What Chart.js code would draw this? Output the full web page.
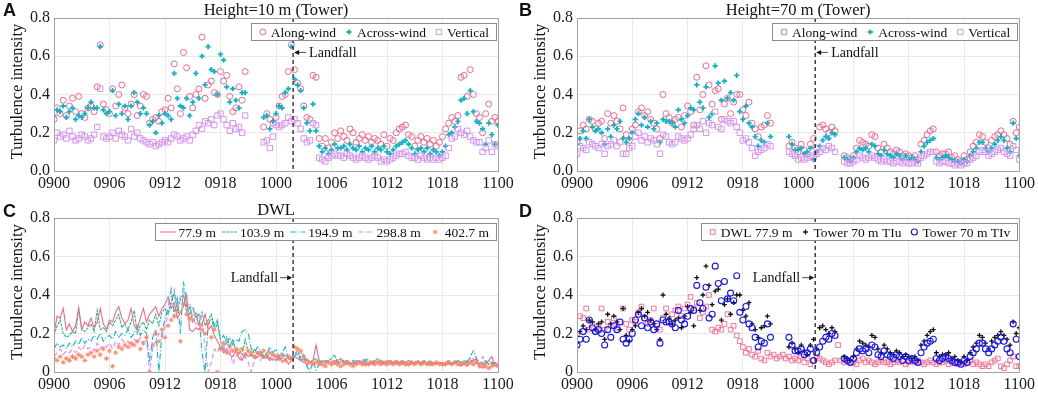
<!DOCTYPE html>
<html>
<head>
<meta charset="utf-8">
<script src="https://cdn.jsdelivr.net/npm/chart.js@4.4.1/dist/chart.umd.min.js"></script>
<style>
  html, body { margin: 0; padding: 0; background: #fff; }
  #wrap { position: relative; width: 1038px; height: 393px; overflow: hidden; }
  canvas { position: absolute; }
</style>
</head>
<body>
<div id="wrap">
  <canvas id="pa" width="519" height="196" style="left:0;top:0"></canvas>
  <canvas id="pb" width="519" height="196" style="left:519px;top:0"></canvas>
  <canvas id="pc" width="519" height="197" style="left:0;top:196px"></canvas>
  <canvas id="pd" width="519" height="197" style="left:519px;top:196px"></canvas>
</div>
<script>
// x axis: hours after 09 00 (DDHH labels), samples every 20 min
const xTickHours = [0, 6, 12, 18, 24, 30, 36, 42, 48];
const xTickLabels = ['0900', '0906', '0912', '0918', '1000', '1006', '1012', '1018', '1100'];
const yTickValues = [0, 0.2, 0.4, 0.6, 0.8];
const yLabelsTower = ['0.0', '0.2', '0.4', '0.6', '0.8'];
const yLabelsDwl = ['0', '0.2', '0.4', '0.6', '0.8'];
const landfallHour = 25.85;

const hours = [];
for (let i = 0; i <= 144; i++) hours.push(i / 3);

// Tower 10 m
const tower10Along = [
  0.27,0.33,0.30, 0.37,0.29,0.34, 0.38,0.31,0.39, 0.30,0.28,0.33,
  0.34,0.31,0.44, 0.66,0.35,0.32, 0.30,0.43,0.34, 0.40,0.45,0.33,
  0.30,0.35,0.40, 0.29,0.34,0.40, 0.39,0.25,0.27, 0.28,0.26,0.31,
  0.32,0.38,0.33, 0.56,0.43,0.30, 0.62,0.54,0.39, 0.33,0.40,0.43,
  0.70,0.38,0.45, 0.47,0.41,0.40, 0.52,0.47,0.50, 0.39,0.31,0.33,
  0.44,0.37,0.52, null,null,null, null,null,0.23, 0.30,0.27,0.25,
  0.28,0.34,0.39, 0.40,0.52,0.66, 0.53,0.46,0.43, 0.34,0.28,0.27,
  0.50,0.49,0.17, 0.13,0.17,0.12, 0.15,0.20,0.17, 0.21,0.18,0.16,
  0.22,0.20,0.15, 0.17,0.19,0.16, 0.18,0.15,0.17, 0.16,0.14,0.19,
  0.13,0.17,0.16, 0.20,0.22,0.23, 0.24,0.19,0.18, 0.13,0.16,0.18,
  0.15,0.17,0.14, 0.16,0.13,0.15, 0.18,0.22,0.25, 0.28,0.26,0.29,
  0.49,0.50,0.39, 0.53,0.40,0.30, 0.28,0.20,0.30, 0.35,0.26,0.28,
  0.26
];
const tower10Across = [
  0.29,0.32,0.31, 0.34,0.28,0.31, 0.33,0.27,0.29, 0.28,0.30,0.33,
  0.36,0.33,0.33, 0.65,0.32,0.30, 0.31,0.42,0.29, 0.35,0.30,0.34,
  0.27,0.34,0.41, 0.36,0.30,0.33, 0.30,0.24,0.26, 0.20,0.29,0.25,
  0.30,0.29,0.27, 0.51,0.38,0.34, 0.33,0.38,0.29, 0.36,0.51,0.38,
  0.60,0.45,0.65, 0.53,0.52,0.40, 0.61,0.58,0.44, 0.36,0.43,0.37,
  0.33,0.41,0.41, null,null,null, null,null,0.28, 0.29,0.22,0.26,
  0.30,0.34,0.33, 0.41,0.43,0.65, 0.48,0.45,0.42, 0.33,0.25,0.21,
  0.35,0.21,0.13, 0.10,0.12,0.09, 0.11,0.14,0.12, 0.12,0.13,0.11,
  0.14,0.12,0.11, 0.13,0.10,0.12, 0.11,0.13,0.10, 0.12,0.11,0.13,
  0.10,0.09,0.11, 0.13,0.14,0.15, 0.16,0.14,0.12, 0.09,0.11,0.12,
  0.10,0.12,0.09, 0.11,0.10,0.08, 0.10,0.13,0.19, 0.20,0.23,0.26,
  0.37,0.38,0.30, 0.42,0.31,0.26, 0.25,0.22,0.14, 0.25,0.19,0.14,
  0.24
];
const tower10Vertical = [
  0.16,0.20,0.18, 0.19,0.17,0.21, 0.18,0.16,0.17, 0.19,0.18,0.16,
  0.17,0.19,0.23, 0.43,0.18,0.17, 0.18,0.20,0.17, 0.21,0.19,0.18,
  0.16,0.22,0.18, 0.20,0.17,0.16, 0.15,0.14,0.15, 0.13,0.14,0.15,
  0.16,0.15,0.17, 0.19,0.18,0.16, 0.17,0.18,0.16, 0.19,0.21,0.24,
  0.22,0.26,0.25, 0.27,0.24,0.29, 0.30,0.27,0.24, 0.21,0.25,0.22,
  0.23,0.20,0.29, null,null,null, null,null,0.15, 0.16,0.12,0.18,
  0.24,0.23,0.24, 0.25,0.28,0.26, 0.27,0.25,0.22, 0.17,0.15,0.16,
  0.25,0.24,0.07, 0.06,0.05,0.07, 0.08,0.09,0.08, 0.08,0.07,0.09,
  0.08,0.07,0.06, 0.07,0.08,0.07, 0.06,0.07,0.08, 0.07,0.05,0.06,
  0.05,0.06,0.07, 0.08,0.09,0.09, 0.10,0.08,0.07, 0.07,0.06,0.08,
  0.07,0.06,0.07, 0.06,0.07,0.06, 0.07,0.08,0.12, 0.17,0.18,0.22,
  0.20,0.19,0.21, 0.18,0.16,0.15, 0.15,0.10,0.12, 0.16,0.10,0.14,
  0.13
];

// Tower 70 m
const tower70Along = [
  0.15,0.21,0.24, 0.22,0.27,0.26, 0.22,0.25,0.26, 0.17,0.30,0.25,
  0.29,0.26,0.22, 0.33,0.19,0.16, 0.22,0.24,0.31, 0.33,0.29,0.31,
  0.27,0.25,0.22, 0.17,0.40,0.30, 0.28,0.25,0.27, 0.28,0.23,0.29,
  0.34,0.31,0.24, 0.49,0.32,0.40, 0.55,0.45,0.35, 0.42,0.43,0.27,
  0.35,0.38,0.30, 0.36,0.40,0.40, 0.32,0.29,0.36, 0.25,0.22,0.18,
  0.23,0.24,0.29, 0.25,null,null, null,null,null, 0.13,0.15,0.12,
  0.10,0.14,0.11, 0.09,0.14,0.17, 0.12,0.23,0.24, 0.22,0.20,0.23,
  0.21,null,null, 0.08,0.07,0.06, 0.08,0.12,0.16, 0.15,0.14,0.13,
  0.19,0.18,0.12, 0.10,0.14,0.12, 0.10,0.09,0.11, 0.10,0.08,0.09,
  0.08,0.07,0.08, 0.06,0.14,0.16, 0.19,0.21,0.22, 0.10,0.08,0.09,
  0.09,0.10,0.07, 0.08,0.06,0.05, 0.08,0.06,0.10, 0.13,0.15,0.19,
  0.18,0.15,0.12, 0.16,0.18,0.19, 0.21,0.19,0.17, 0.14,0.26,0.20,
  0.23
];
const tower70Across = [
  0.14,0.17,0.21, 0.17,0.27,0.23, 0.21,0.22,0.20, 0.14,0.22,0.18,
  0.24,0.22,0.26, 0.17,0.15,0.17, 0.20,0.27,0.30, 0.24,0.28,0.23,
  0.26,0.22,0.25, 0.15,0.27,0.26, 0.26,0.25,0.23, 0.32,0.27,0.25,
  0.29,0.33,0.32, 0.45,0.36,0.33, 0.44,0.28,0.30, 0.55,0.46,0.37,
  0.47,0.38,0.41, 0.37,0.50,0.31, 0.27,0.34,0.25, 0.23,0.18,0.13,
  0.16,0.15,0.25, 0.18,null,null, null,null,null, 0.18,0.14,0.11,
  0.11,0.12,0.09, 0.10,0.12,0.06, 0.10,0.13,0.16, 0.18,0.17,0.20,
  0.19,null,null, 0.07,0.06,0.05, 0.07,0.10,0.12, 0.11,0.12,0.10,
  0.14,0.13,0.09, 0.08,0.11,0.09, 0.08,0.07,0.09, 0.08,0.06,0.08,
  0.06,0.07,0.06, 0.05,0.10,0.13, 0.15,0.16,0.17, 0.07,0.06,0.07,
  0.08,0.07,0.06, 0.05,0.05,0.04, 0.06,0.05,0.08, 0.10,0.12,0.15,
  0.15,0.12,0.10, 0.12,0.14,0.16, 0.18,0.16,0.12, 0.10,0.25,0.17,
  0.08
];
const tower70Vertical = [
  0.09,0.13,0.12, 0.11,0.15,0.14, 0.13,0.12,0.14, 0.09,0.13,0.14,
  0.16,0.13,0.15, 0.09,0.09,0.12, 0.13,0.18,0.20, 0.16,0.18,0.15,
  0.17,0.16,0.14, 0.09,0.19,0.18, 0.15,0.14,0.15, 0.18,0.17,0.16,
  0.17,0.19,0.22, 0.24,0.22,0.26, 0.20,0.25,0.24, 0.31,0.23,0.22,
  0.27,0.26,0.25, 0.26,0.23,0.20, 0.16,0.17,0.15, 0.12,0.08,0.10,
  0.11,0.12,0.14, 0.13,null,null, null,null,null, 0.10,0.09,0.08,
  0.06,0.07,0.06, 0.07,0.08,0.07, 0.09,0.10,0.12, 0.11,0.13,0.12,
  0.10,null,null, 0.05,0.04,0.04, 0.05,0.06,0.08, 0.07,0.06,0.07,
  0.08,0.07,0.06, 0.05,0.06,0.05, 0.05,0.04,0.05, 0.05,0.04,0.05,
  0.04,0.04,0.05, 0.04,0.07,0.08, 0.09,0.10,0.10, 0.05,0.04,0.05,
  0.05,0.04,0.04, 0.03,0.04,0.03, 0.04,0.04,0.06, 0.07,0.08,0.10,
  0.11,0.10,0.08, 0.09,0.10,0.11, 0.12,0.10,0.09, 0.08,0.13,0.11,
  0.06
];

// DWL
const dwl779 = [
  0.20,0.29,0.28, 0.33,0.22,0.25, 0.21,0.24,0.33, 0.22,0.26,0.24,
  0.28,0.23,0.26, 0.33,0.25,0.22, 0.27,0.26,0.31, 0.34,0.28,0.25,
  0.27,0.33,0.24, 0.22,0.28,0.33, 0.26,0.30,0.32, 0.34,0.29,0.33,
  0.35,0.39,0.33, 0.36,0.28,0.31, 0.34,0.40,0.22, 0.21,0.23,0.22,
  0.25,0.30,0.22, 0.24,0.19,0.16, 0.13,0.10,0.12, 0.09,0.08,0.11,
  0.07,0.06,0.10, 0.08,0.09,0.07, 0.08,0.09,0.07, 0.08,0.06,0.07,
  0.06,0.08,0.05, 0.07,0.04,0.06, 0.08,0.07,0.06, 0.05,0.04,0.05,
  0.06,0.14,0.06, 0.05,0.06,0.05, 0.05,0.04,0.06, 0.07,0.05,0.06,
  0.05,0.04,0.05, 0.06,0.05,0.05, 0.04,0.05,0.06, 0.05,0.06,0.04,
  0.05,0.06,0.05, 0.06,0.05,0.04, 0.05,0.06,0.05, 0.04,0.05,0.05,
  0.06,0.04,0.05, 0.05,0.04,0.05, 0.04,0.05,0.06, 0.04,0.05,0.04,
  0.03,0.04,0.03, 0.05,0.06,0.07, 0.03,0.02,0.04, 0.06,0.08,0.03,
  0.03
];
const dwl1039 = [
  0.19,0.24,0.27, 0.20,0.18,0.19, 0.21,0.20,0.33, 0.22,0.21,0.23,
  0.25,0.21,0.32, 0.22,0.23,0.21, 0.26,0.24,0.27, 0.30,0.23,0.25,
  0.22,0.26,0.32, 0.20,0.24,0.26, 0.22,0.27,0.25, 0.30,0.24,0.31,
  0.33,0.30,0.36, 0.41,0.32,0.38, 0.40,0.31,0.34, 0.26,0.29,0.25,
  0.31,0.24,0.27, 0.30,0.24,0.27, 0.16,0.12,0.18, 0.13,0.17,0.11,
  0.12,0.09,0.17, 0.10,0.08,0.12, 0.09,0.11,0.08, 0.10,0.07,0.09,
  0.08,0.06,0.07, 0.09,0.07,0.06, 0.08,0.12,0.07, 0.06,0.07,0.05,
  0.06,0.07,0.05, 0.06,0.05,0.06, 0.07,0.09,0.05, 0.05,0.06,0.05,
  0.04,0.05,0.06, 0.05,0.06,0.07, 0.06,0.05,0.06, 0.07,0.06,0.05,
  0.05,0.06,0.05, 0.04,0.05,0.06, 0.05,0.04,0.05, 0.05,0.06,0.04,
  0.05,0.05,0.06, 0.04,0.05,0.04, 0.05,0.04,0.05, 0.04,0.06,0.05,
  0.05,0.04,0.06, 0.07,0.05,0.05, 0.04,0.05,0.06, 0.04,0.05,0.05,
  0.04
];
const dwl1949 = [
  0.12,0.15,0.13, 0.14,0.12,0.15, 0.13,0.16,0.14, 0.18,0.15,0.17,
  0.16,0.19,0.17, 0.20,0.16,0.18, 0.19,0.17,0.21, 0.18,0.20,0.19,
  0.22,0.18,0.20, 0.24,0.19,0.22, 0.20,0.05,0.18, 0.22,0.00,0.20,
  0.28,0.33,0.43, 0.30,0.38,0.20, 0.47,0.35,0.30, 0.34,0.28,0.30,
  0.10,0.00,0.25, 0.28,0.22,0.25, 0.17,0.19,0.15, 0.18,0.14,0.17,
  0.16,0.21,0.22, 0.20,0.12,0.10, 0.13,0.11,0.08, 0.09,0.13,0.10,
  0.12,0.08,0.10, 0.13,0.07,0.09, 0.08,0.10,0.06, 0.09,0.03,0.00,
  0.06,0.01,0.04, 0.06,0.05,0.06, 0.05,0.06,0.05, 0.06,0.05,0.04,
  0.05,0.06,0.05, 0.04,0.05,0.06, 0.05,0.04,0.05, 0.06,0.05,0.04,
  0.05,0.04,0.05, 0.04,0.05,0.05, 0.05,0.04,0.04, 0.05,0.04,0.05,
  0.04,0.05,0.04, 0.05,0.04,0.05, 0.04,0.05,0.04, 0.05,0.04,0.06,
  0.05,0.06,0.05, 0.08,0.11,0.07, 0.05,0.04,0.05, 0.06,0.04,0.05,
  0.04
];
const dwl2988 = [
  0.08,0.10,0.12, 0.09,0.11,0.10, 0.12,0.10,0.13, 0.11,0.14,0.12,
  0.13,0.11,0.15, 0.12,0.14,0.13, 0.15,0.12,0.16, 0.14,0.17,0.15,
  0.16,0.13,0.17, 0.15,0.18,0.14, 0.17,0.00,0.12, 0.16,0.20,0.18,
  0.24,0.30,0.36, 0.43,0.35,0.39, 0.40,0.34,0.36, 0.28,0.25,0.30,
  0.27,0.12,0.00, 0.05,0.12,0.10, 0.14,0.10,0.15, 0.12,0.04,0.08,
  0.10,0.06,0.08, 0.05,0.00,0.06, 0.08,0.06,0.09, 0.07,0.08,0.06,
  0.09,0.07,0.08, 0.06,0.08,0.07, 0.10,0.09,0.11, 0.07,0.03,0.05,
  0.04,0.06,0.05, 0.05,0.04,0.05, 0.06,0.05,0.04, 0.05,0.06,0.05,
  0.04,0.05,0.04, 0.05,0.04,0.06, 0.05,0.04,0.05, 0.04,0.05,0.05,
  0.06,0.05,0.04, 0.05,0.04,0.05, 0.04,0.05,0.04, 0.05,0.06,0.04,
  0.05,0.04,0.05, 0.04,0.05,0.04, 0.05,0.04,0.05, 0.04,0.05,0.04,
  0.05,0.04,0.05, 0.06,0.07,0.05, 0.04,0.08,0.05, 0.04,0.03,0.05,
  0.04
];
const dwl4027 = [
  0.07,0.06,0.08, 0.05,0.07,0.06, 0.08,0.07,0.09, 0.08,0.06,0.09,
  0.10,0.08,0.11, 0.09,0.12,0.07, 0.11,0.03,0.10, 0.13,0.12,0.14,
  0.13,0.15,0.14, 0.16,0.12,0.15, 0.18,0.00,0.14, 0.20,0.16,0.22,
  0.18,0.24,0.27, 0.29,0.32,0.16, 0.35,0.30,0.28, 0.27,0.30,0.25,
  0.22,0.20,0.25, 0.18,0.22,0.00, 0.12,0.15,0.10, 0.13,0.11,0.12,
  0.10,0.12,0.09, 0.11,0.10,0.08, 0.10,0.09,0.11, 0.08,0.10,0.09,
  0.08,0.07,0.09, 0.06,0.08,0.07, 0.13,0.12,0.11, 0.08,0.06,0.05,
  0.04,0.05,0.04, 0.04,0.03,0.05, 0.04,0.05,0.04, 0.03,0.04,0.05,
  0.04,0.03,0.04, 0.05,0.04,0.04, 0.04,0.05,0.04, 0.05,0.04,0.05,
  0.04,0.05,0.04, 0.05,0.04,0.05, 0.04,0.04,0.05, 0.04,0.05,0.04,
  0.05,0.04,0.04, 0.04,0.05,0.04, 0.04,0.04,0.05, 0.04,0.05,0.04,
  0.04,0.05,0.04, 0.05,0.04,0.05, 0.03,0.04,0.03, 0.02,0.03,0.04,
  0.03
];

const PINK = '#f2688c';
const CYAN = '#0db4c9';
const LAVENDER = '#d493ef';
const GREEN = '#2fb487';
const CYAN_LINE = '#10b3d8';
const VIOLET = '#e38af2';
const ORANGE = '#ff8061';
const BLUE = '#1717ee';
const BLACK = '#111111';
const SERIF = '"Liberation Serif", "Times New Roman", serif';

function pts(arr) {
  return arr.map((v, i) => ({ x: hours[i], y: v }));
}

function marks(label, arr, style, color, radius, width) {
  return {
    label: label, data: pts(arr), showLine: false,
    pointStyle: style, pointRadius: radius, pointBorderWidth: width,
    borderColor: color, backgroundColor: 'rgba(0,0,0,0)', pointBackgroundColor: 'rgba(0,0,0,0)'
  };
}

function line(label, arr, color, dash) {
  return {
    label: label, data: pts(arr), borderColor: color, borderWidth: 1.1,
    borderDash: dash, pointRadius: 0, tension: 0, spanGaps: false
  };
}

function drawMarker(ctx, style, x, y, r, color, lw) {
  ctx.save();
  ctx.strokeStyle = color;
  ctx.lineWidth = lw;
  ctx.beginPath();
  if (style === 'circle') {
    ctx.arc(x, y, r, 0, Math.PI * 2);
  } else if (style === 'rect') {
    const s = r * Math.SQRT1_2;
    ctx.rect(x - s, y - s, 2 * s, 2 * s);
  } else if (style === 'cross' || style === 'star') {
    ctx.moveTo(x - r, y); ctx.lineTo(x + r, y);
    ctx.moveTo(x, y - r); ctx.lineTo(x, y + r);
    if (style === 'star') {
      const d = r * Math.SQRT1_2;
      ctx.moveTo(x - d, y - d); ctx.lineTo(x + d, y + d);
      ctx.moveTo(x - d, y + d); ctx.lineTo(x + d, y - d);
    }
  }
  ctx.stroke();
  ctx.restore();
}

const decorations = {
  id: 'decorations',
  afterDatasetsDraw(chart, args, opts) {
    const ctx = chart.ctx;
    const a = chart.chartArea;
    const xs = chart.scales.x, ys = chart.scales.y;

    // landfall line
    const lx = xs.getPixelForValue(landfallHour);
    ctx.save();
    ctx.strokeStyle = '#222';
    ctx.lineWidth = 1.3;
    ctx.setLineDash([4, 3]);
    ctx.beginPath();
    ctx.moveTo(lx, a.top);
    ctx.lineTo(lx, a.bottom);
    ctx.stroke();
    ctx.setLineDash([]);

    // landfall label with arrow
    const ly = ys.getPixelForValue(opts.landfallY);
    ctx.font = '14px ' + SERIF;
    ctx.fillStyle = '#111';
    ctx.textBaseline = 'middle';
    ctx.lineWidth = 0.8;
    ctx.beginPath();
    if (opts.landfallSide === 'right') {
      ctx.moveTo(lx + 2, ly); ctx.lineTo(lx + 13, ly);
      ctx.stroke();
      ctx.beginPath();
      ctx.moveTo(lx + 1, ly); ctx.lineTo(lx + 6, ly - 2.5); ctx.lineTo(lx + 6, ly + 2.5); ctx.closePath();
      ctx.fill();
      ctx.textAlign = 'left';
      ctx.fillText('Landfall', lx + 16, ly + 1);
    } else {
      ctx.moveTo(lx - 13, ly); ctx.lineTo(lx - 2, ly);
      ctx.stroke();
      ctx.beginPath();
      ctx.moveTo(lx - 1, ly); ctx.lineTo(lx - 6, ly - 2.5); ctx.lineTo(lx - 6, ly + 2.5); ctx.closePath();
      ctx.fill();
      ctx.textAlign = 'right';
      ctx.fillText('Landfall', lx - 15, ly + 1);
    }

    // legend box
    const items = opts.legend;
    ctx.font = '13.5px ' + SERIF;
    const zone = opts.legendZone;
    let total = 6;
    items.forEach(it => { total += zone + ctx.measureText(it.text).width + 7; });
    const bx = a.right - 2 - total, by = a.top + 5, bh = 17;
    ctx.fillStyle = '#fff';
    ctx.fillRect(bx, by, total, bh);
    ctx.strokeStyle = '#8c8c8c';
    ctx.lineWidth = 1;
    ctx.strokeRect(Math.round(bx) + 0.5, by + 0.5, Math.round(total), bh);
    let cx = bx + 5;
    const cy = by + bh / 2 + 0.5;
    items.forEach(it => {
      ctx.save();
      if (it.style === 'line') {
        ctx.strokeStyle = it.color;
        ctx.lineWidth = 1.1;
        ctx.setLineDash(it.dash || []);
        ctx.beginPath();
        ctx.moveTo(cx, cy); ctx.lineTo(cx + zone - 2, cy);
        ctx.stroke();
      } else {
        drawMarker(ctx, it.style, cx + zone / 2, cy, it.r, it.color, it.lw);
      }
      ctx.restore();
      ctx.fillStyle = '#111';
      ctx.textAlign = 'left';
      ctx.textBaseline = 'middle';
      ctx.fillText(it.text, cx + zone + 1, cy + 1);
      cx += zone + ctx.measureText(it.text).width + 7;
    });

    // frame
    ctx.strokeStyle = '#a3a3a3';
    ctx.lineWidth = 1;
    ctx.strokeRect(Math.round(a.left) + 0.5, Math.round(a.top) + 0.5,
      Math.round(a.right - a.left), Math.round(a.bottom - a.top));
    ctx.restore();
  },
  afterDraw(chart, args, opts) {
    const ctx = chart.ctx;
    const a = chart.chartArea;
    ctx.save();
    ctx.fillStyle = '#111';
    ctx.textBaseline = 'top';
    ctx.textAlign = 'center';
    ctx.font = '16.5px ' + SERIF;
    ctx.fillText(opts.title, (a.left + a.right) / 2, opts.titleY);
    ctx.textAlign = 'left';
    ctx.font = 'bold 18px "Liberation Sans", Arial, sans-serif';
    ctx.fillText(opts.letter, opts.letterX, opts.letterY);
    ctx.translate(a.left - 36, (a.top + a.bottom) / 2 - 3);
    ctx.rotate(-Math.PI / 2);
    ctx.textAlign = 'center';
    ctx.textBaseline = 'middle';
    ctx.font = '16.5px ' + SERIF;
    ctx.fillText('Turbulence intensity', 0, 0);
    ctx.restore();
  }
};

function makePanel(id, plot, yLabels, datasets, deco) {
  const canvas = document.getElementById(id);
  const W = canvas.width, H = canvas.height;
  return new Chart(canvas.getContext('2d'), {
    type: 'line',
    data: { datasets: datasets },
    plugins: [decorations],
    options: {
      responsive: false,
      devicePixelRatio: 1,
      animation: false,
      events: [],
      layout: { padding: { top: plot.top, right: W - plot.right, left: 0, bottom: 0 } },
      plugins: {
        legend: { display: false },
        tooltip: { enabled: false },
        decorations: deco
      },
      scales: {
        x: {
          type: 'linear', min: 0, max: 48,
          afterBuildTicks: s => { s.ticks = xTickHours.map(v => ({ value: v })); },
          afterFit: s => { s.height = H - plot.bottom; },
          ticks: {
            callback: (v, i) => xTickLabels[i], autoSkip: false, maxRotation: 0,
            padding: 3, color: '#1a1a1a', font: { family: SERIF, size: 16 }
          },
          grid: { color: '#e9e9e9', drawTicks: false },
          border: { display: false }
        },
        y: {
          min: 0, max: 0.8,
          afterBuildTicks: s => { s.ticks = yTickValues.map(v => ({ value: v })); },
          afterFit: s => { s.width = plot.left; },
          ticks: {
            callback: (v, i) => yLabels[i], padding: 4,
            color: '#1a1a1a', font: { family: SERIF, size: 16 }
          },
          grid: { color: '#e9e9e9', drawTicks: false },
          border: { display: false }
        }
      }
    }
  });
}

const towerLegend = [
  { text: 'Along-wind', style: 'circle', color: PINK, r: 3, lw: 1 },
  { text: 'Across-wind', style: 'cross', color: CYAN, r: 2.5, lw: 1.8 },
  { text: 'Vertical', style: 'rect', color: LAVENDER, r: 3.8, lw: 1 }
];

makePanel('pa', { left: 54, right: 498, top: 18, bottom: 171 }, yLabelsTower, [
  Object.assign(marks('Along-wind', tower10Along, 'circle', PINK, 3, 1), { order: 3 }),
  Object.assign(marks('Across-wind', tower10Across, 'cross', CYAN, 2.6, 1.8), { order: 2 }),
  Object.assign(marks('Vertical', tower10Vertical, 'rect', LAVENDER, 3.8, 1), { order: 1 })
], {
  title: 'Height=10 m (Tower)', titleY: 2, letter: 'A', letterX: 3, letterY: 2,
  landfallY: 0.62, landfallSide: 'right', legend: towerLegend, legendZone: 14
});

makePanel('pb', { left: 58, right: 501, top: 18, bottom: 171 }, yLabelsTower, [
  Object.assign(marks('Along-wind', tower70Along, 'circle', PINK, 3, 1), { order: 3 }),
  Object.assign(marks('Across-wind', tower70Across, 'cross', CYAN, 2.6, 1.8), { order: 2 }),
  Object.assign(marks('Vertical', tower70Vertical, 'rect', LAVENDER, 3.8, 1), { order: 1 })
], {
  title: 'Height=70 m (Tower)', titleY: 2, letter: 'B', letterX: 0, letterY: 2,
  landfallY: 0.62, landfallSide: 'right', legend: towerLegend, legendZone: 14
});

makePanel('pc', { left: 54, right: 498, top: 22, bottom: 176 }, yLabelsDwl, [
  Object.assign(line('77.9 m', dwl779, PINK, []), { order: 1 }),
  Object.assign(line('103.9 m', dwl1039, GREEN, [3, 1]), { order: 2 }),
  Object.assign(line('194.9 m', dwl1949, CYAN_LINE, [6, 2, 1, 2]), { order: 3 }),
  Object.assign(line('298.8 m', dwl2988, VIOLET, [5, 3]), { order: 4 }),
  Object.assign(marks('402.7 m', dwl4027, 'star', ORANGE, 2.4, 0.9), { order: 0 })
], {
  title: 'DWL', titleY: 6, letter: 'C', letterX: 3, letterY: 7,
  landfallY: 0.49, landfallSide: 'left', legendZone: 17,
  legend: [
    { text: '77.9 m', style: 'line', color: PINK, dash: [] },
    { text: '103.9 m', style: 'line', color: GREEN, dash: [3, 1] },
    { text: '194.9 m', style: 'line', color: CYAN_LINE, dash: [6, 2, 1, 2] },
    { text: '298.8 m', style: 'line', color: VIOLET, dash: [5, 3] },
    { text: '402.7 m', style: 'star', color: ORANGE, r: 2.4, lw: 0.9 }
  ]
});

makePanel('pd', { left: 58, right: 501, top: 22, bottom: 176 }, yLabelsDwl, [
  Object.assign(marks('DWL 77.9 m', dwl779, 'rect', PINK, 3.3, 0.9), { order: 3 }),
  Object.assign(marks('Tower 70 m TIu', tower70Along, 'cross', BLACK, 2.4, 1.3), { order: 2 }),
  Object.assign(marks('Tower 70 m TIv', tower70Across, 'circle', BLUE, 3, 1.1), { order: 1 })
], {
  title: '', titleY: 6, letter: 'D', letterX: 0, letterY: 7,
  landfallY: 0.49, landfallSide: 'left', legendZone: 14,
  legend: [
    { text: 'DWL 77.9 m', style: 'rect', color: PINK, r: 3.3, lw: 0.9 },
    { text: 'Tower 70 m TIu', style: 'cross', color: BLACK, r: 2.4, lw: 1.3 },
    { text: 'Tower 70 m TIv', style: 'circle', color: BLUE, r: 3, lw: 1.1 }
  ]
});
</script>
</body>
</html>
